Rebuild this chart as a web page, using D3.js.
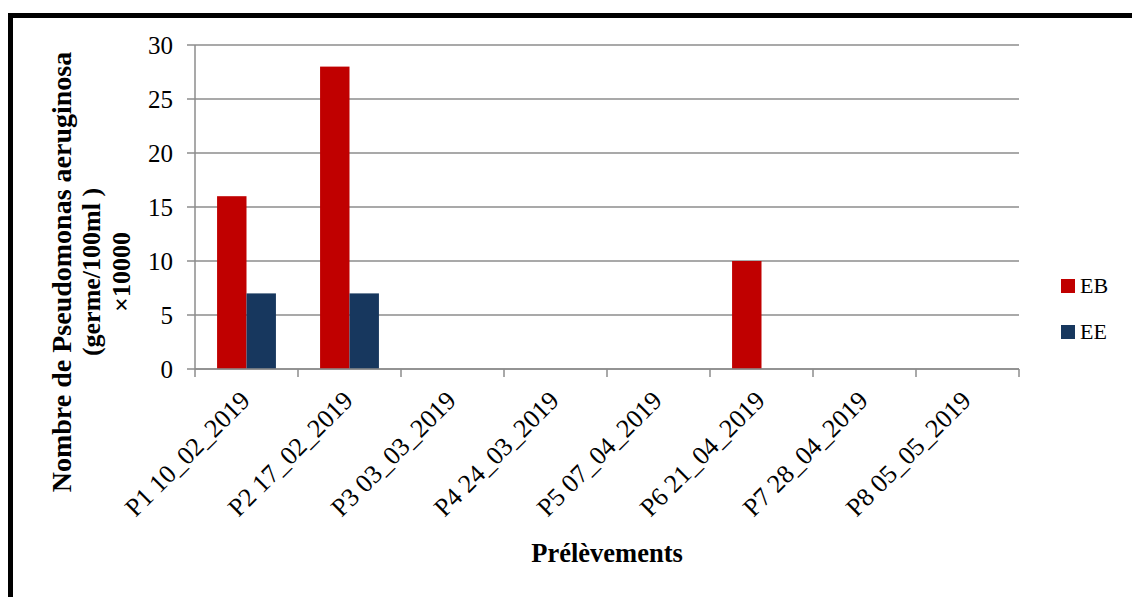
<!DOCTYPE html>
<html>
<head>
<meta charset="utf-8">
<script src="https://cdn.jsdelivr.net/npm/d3@7"></script>
<style>
  html, body { margin: 0; padding: 0; background: #fff; }
  svg { display: block; }
  text { font-family: 'Liberation Serif', 'Times New Roman', 'DejaVu Serif', serif; }
</style>
</head>
<body>
<svg id="chart" width="1132" height="597"></svg>
<script>
// Sampling points (Prélèvements)
const categories = [
  "P1 10_02_2019", "P2 17_02_2019", "P3 03_03_2019", "P4 24_03_2019",
  "P5 07_04_2019", "P6 21_04_2019", "P7 28_04_2019", "P8 05_05_2019"
];
const seriesNames = ["EB", "EE"];
const valuesEB = [16, 28, 0, 0, 0, 10, 0, 0];
const valuesEE = [7, 7, 0, 0, 0, 0, 0, 0];
const yTicks = [0, 5, 10, 15, 20, 25, 30];
const colors = ["#C00000", "#17375E"];

const FONT = "'Liberation Serif', 'Times New Roman', 'DejaVu Serif', serif";
const svg = d3.select("#chart").attr("font-family", FONT);
const margin = { left: 195, right: 1019, top: 45, bottom: 369 };

// Outer frame
svg.append("rect")
  .attr("x", 10.5).attr("y", 15.5)
  .attr("width", 1200).attr("height", 700)
  .attr("fill", "none").attr("stroke", "#000").attr("stroke-width", 5);

const x = d3.scaleBand().domain(categories).range([margin.left, margin.right]);
const xInner = d3.scaleBand().domain(seriesNames)
  .range([0, x.bandwidth()]).paddingOuter(0.75).paddingInner(0);
const y = d3.scaleLinear().domain([0, 30]).range([margin.bottom, margin.top]);

// Horizontal gridlines with left tick stubs
svg.append("g").selectAll("line").data(yTicks).join("line")
  .attr("x1", margin.left - 8).attr("x2", margin.right)
  .attr("y1", d => y(d)).attr("y2", d => y(d))
  .attr("stroke", "#8c8c8c").attr("stroke-width", 1.5);

// Y axis line
svg.append("line")
  .attr("x1", margin.left).attr("x2", margin.left)
  .attr("y1", margin.top).attr("y2", margin.bottom)
  .attr("stroke", "#8c8c8c").attr("stroke-width", 1.5);

// Y tick labels
svg.append("g").selectAll("text").data(yTicks).join("text")
  .attr("x", 173).attr("y", d => y(d))
  .attr("dy", "0.35em")
  .attr("text-anchor", "end")
  .attr("font-family", FONT)
  .attr("font-size", 25)
  .attr("fill", "#000")
  .text(d => d);

// Bars
const data = categories.map((c, i) => ({ cat: c, vals: [valuesEB[i], valuesEE[i]] }));
const groups = svg.append("g").selectAll("g").data(data).join("g")
  .attr("transform", d => `translate(${x(d.cat)},0)`);
groups.selectAll("rect")
  .data(d => d.vals.map((v, j) => ({ key: seriesNames[j], v, j })).filter(e => e.v > 0))
  .join("rect")
  .attr("x", e => xInner(e.key))
  .attr("width", xInner.bandwidth())
  .attr("y", e => y(e.v))
  .attr("height", e => y(0) - y(e.v))
  .attr("fill", e => colors[e.j]);

// X axis line and tick marks
svg.append("line")
  .attr("x1", margin.left).attr("x2", margin.right)
  .attr("y1", margin.bottom).attr("y2", margin.bottom)
  .attr("stroke", "#8c8c8c").attr("stroke-width", 1.5);
const tickXs = categories.map(c => x(c)).concat([margin.right]);
svg.append("g").selectAll("line").data(tickXs).join("line")
  .attr("x1", d => d).attr("x2", d => d)
  .attr("y1", margin.bottom).attr("y2", margin.bottom + 8)
  .attr("stroke", "#8c8c8c").attr("stroke-width", 1.5);

// X tick labels, rotated
svg.append("g").selectAll("text").data(categories).join("text")
  .attr("transform", d => `translate(${x(d) + x.bandwidth() / 2 + 5},${margin.bottom + 33}) rotate(-45)`)
  .attr("text-anchor", "end")
  .attr("font-family", FONT)
  .attr("font-size", 26)
  .attr("fill", "#000")
  .text(d => d);

// X axis title
svg.append("text")
  .attr("x", (margin.left + margin.right) / 2).attr("y", 562)
  .attr("text-anchor", "middle")
  .attr("font-family", FONT)
  .attr("font-size", 26.5).attr("font-weight", "bold")
  .text("Prélèvements");

// Y axis title (three lines)
const yTitle = ["Nombre de Pseudomonas aeruginosa", "(germe/100ml )", "×10000"];
const yTitleX = [71, 100, 130];
const yTitleSize = [28, 26, 26];
svg.append("g").selectAll("text").data(yTitle).join("text")
  .attr("transform", (d, i) => `translate(${yTitleX[i]},272) rotate(-90)`)
  .attr("text-anchor", "middle")
  .attr("font-family", FONT)
  .attr("font-size", (d, i) => yTitleSize[i]).attr("font-weight", "bold")
  .text(d => d);

// Legend
const legend = svg.append("g").selectAll("g").data(seriesNames).join("g")
  .attr("transform", (d, i) => `translate(1061,${279 + i * 46})`);
legend.append("rect")
  .attr("width", 14).attr("height", 14)
  .attr("fill", (d, i) => colors[i]);
legend.append("text")
  .attr("x", 19).attr("y", 14)
  .attr("font-family", FONT)
  .attr("font-size", 22)
  .text(d => d);
</script>
</body>
</html>
